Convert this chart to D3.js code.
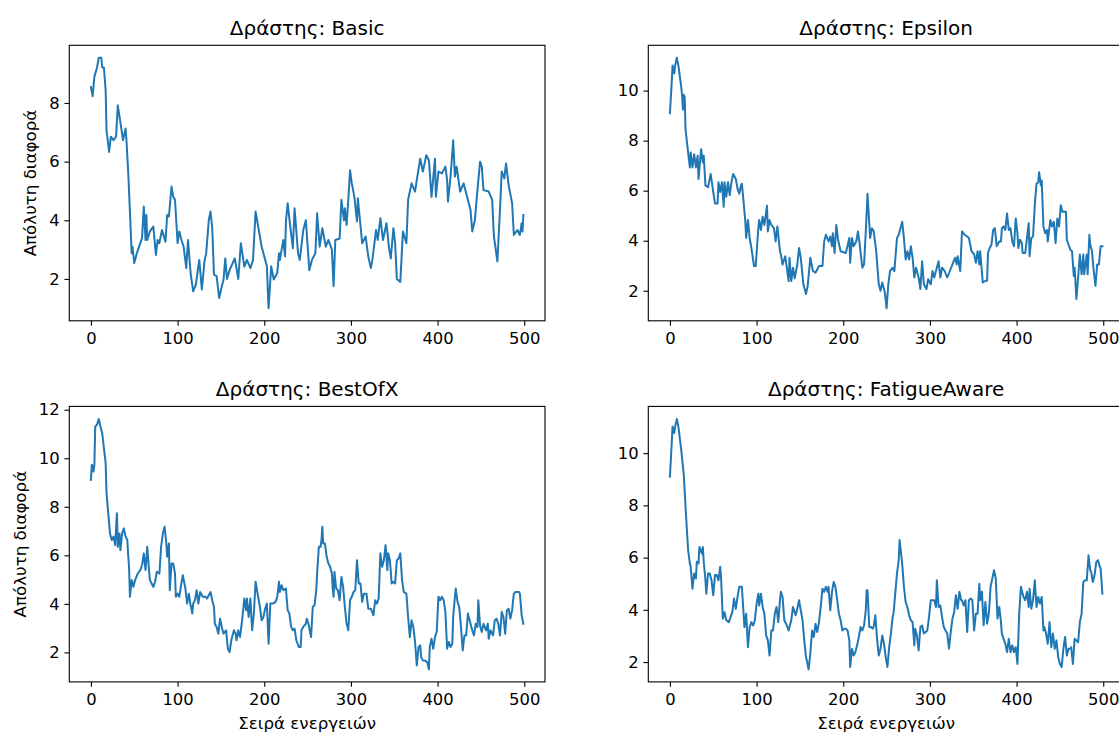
<!DOCTYPE html>
<html><head><meta charset="utf-8">
<script src="https://cdn.jsdelivr.net/npm/d3@7"></script>
<style>body{margin:0;background:#fff;} svg text{font-family:"DejaVu Sans",sans-serif;fill:#000;}</style>
</head><body><svg id="c" width="1119" height="734"></svg>
<script>
// ---------- data ----------
const agentNames = ["Basic", "Epsilon", "BestOfX", "FatigueAware"];
const titlePrefix = "Δράστης: ";
const yAxisLabel = "Απόλυτη διαφορά";
const xAxisLabel = "Σειρά ενεργειών";
const xTicks = [0, 100, 200, 300, 400, 500];
const yTicksBasic = [2, 4, 6, 8];
const yTicksEpsilon = [2, 4, 6, 8, 10];
const yTicksBestOfX = [2, 4, 6, 8, 10, 12];
const yTicksFatigue = [2, 4, 6, 8, 10];

// [action index, absolute difference]
const basicPts = [[0,8.54],[2,8.23],[4,8.9],[7,9.2],[9,9.54],[12,9.54],[13,9.22],[15,9.2],[17,8.43],[18,7.07],[21,6.33],[23,6.85],[26,6.73],[29,6.85],[31,7.92],[34,7.35],[37,6.73],[40,7.13],[41,6.73],[43,5.66],[45,4.3],[47,2.88],[48,3.1],[50,2.54],[53,2.88],[57,3.22],[59,3.4],[61,4.47],[63,3.33],[64,4.18],[65,3.33],[68,3.62],[72,3.79],[75,2.82],[77,3.33],[79,3.22],[82,3.67],[86,3.27],[88,4.18],[90,4.13],[93,5.15],[95,4.8],[97,4.7],[100,3.22],[102,3.62],[105,3.27],[107,3.1],[110,2.37],[112,3.33],[115,2.2],[118,1.58],[121,1.8],[125,2.65],[128,1.64],[131,2.6],[133,2.88],[136,4.0],[138,4.3],[140,3.73],[142,2.15],[145,2.1],[148,1.35],[151,1.75],[153,1.97],[155,2.7],[157,2.0],[160,2.3],[166,2.7],[170,2.0],[173,3.22],[177,2.42],[180,2.65],[184,2.37],[187,2.65],[190,4.3],[193,3.79],[197,3.1],[200,2.77],[203,2.43],[205,1.0],[208,2.43],[211,1.98],[215,2.2],[217,2.88],[218,2.65],[222,3.33],[224,2.77],[225,3.96],[227,4.58],[230,3.79],[233,3.05],[235,4.41],[239,2.88],[241,2.65],[245,3.67],[248,4.0],[252,2.3],[255,2.65],[259,2.88],[261,4.24],[264,3.1],[267,3.73],[271,3.1],[274,3.33],[278,3.0],[280,1.75],[282,3.33],[287,3.38],[289,4.7],[292,4.0],[293,4.41],[295,3.84],[297,4.7],[299,5.71],[301,5.26],[304,4.8],[307,3.96],[308,4.75],[311,3.84],[313,3.22],[317,3.45],[320,2.77],[323,2.37],[325,2.7],[329,3.67],[331,3.33],[334,4.07],[337,3.33],[341,3.9],[344,3.05],[346,2.7],[349,3.73],[351,3.22],[353,2.0],[357,1.9],[360,3.62],[364,3.22],[366,4.7],[370,5.26],[374,4.98],[376,5.37],[380,6.1],[383,5.66],[387,6.22],[390,6.05],[393,4.8],[397,6.1],[398,4.8],[401,5.66],[405,5.6],[409,5.83],[411,5.37],[412,4.64],[415,5.5],[418,6.73],[420,5.49],[422,5.83],[426,4.98],[430,5.26],[433,4.92],[438,4.35],[440,3.62],[443,4.0],[446,5.03],[449,6.0],[451,5.83],[453,5.03],[459,4.98],[463,4.7],[465,3.45],[469,2.6],[472,4.35],[474,5.66],[477,5.43],[479,5.94],[482,5.2],[486,4.58],[488,3.5],[492,3.67],[495,3.5],[497,3.9],[498,3.62],[499,4.18]];

const epsilonPts = [[0,9.1],[2,10.29],[3,11.0],[5,10.68],[6,11.0],[8,11.31],[10,10.95],[13,10.16],[14,9.83],[15,9.24],[16,9.83],[17,9.76],[18,8.45],[21,7.53],[23,6.93],[24,7.53],[26,6.93],[28,7.46],[30,6.93],[32,7.4],[33,6.47],[36,7.66],[38,7.13],[39,7.4],[41,6.21],[44,6.14],[47,6.67],[50,5.95],[52,5.49],[55,5.49],[56,6.34],[58,5.95],[60,6.34],[62,5.36],[63,6.34],[65,5.75],[67,6.34],[69,5.82],[71,6.34],[73,6.67],[76,6.47],[78,6.08],[80,5.88],[82,6.21],[83,6.28],[85,5.55],[87,4.76],[88,4.11],[90,4.83],[92,4.11],[94,3.71],[97,2.99],[99,2.99],[102,4.5],[103,4.83],[105,4.43],[107,4.96],[109,4.63],[112,5.4],[113,4.37],[115,4.83],[117,4.63],[120,4.5],[122,3.97],[124,4.57],[127,3.58],[128,3.45],[130,3.05],[133,3.38],[137,2.39],[138,3.32],[140,2.39],[142,2.92],[144,2.5],[147,3.05],[149,3.71],[151,3.32],[154,2.26],[157,1.87],[159,2.2],[162,3.32],[165,2.79],[168,2.72],[172,2.99],[176,2.99],[178,3.97],[180,4.24],[183,3.97],[185,4.17],[187,3.78],[188,4.3],[190,3.51],[192,4.63],[194,4.04],[197,3.58],[203,3.51],[207,4.11],[208,3.12],[210,4.11],[212,3.78],[215,3.97],[217,4.37],[219,3.84],[222,2.92],[224,3.05],[226,4.37],[228,5.88],[231,4.11],[233,4.5],[235,4.4],[238,3.58],[241,2.26],[243,2.0],[245,2.33],[248,1.93],[250,1.3],[252,2.26],[254,2.79],[257,2.92],[259,2.79],[262,4.11],[264,4.24],[266,4.5],[268,4.76],[270,4.11],[272,3.25],[274,3.58],[276,3.25],[278,3.78],[280,3.32],[282,2.53],[284,2.92],[287,2.53],[289,2.07],[291,3.18],[293,2.26],[296,2.07],[298,2.46],[301,2.26],[303,2.79],[305,2.53],[307,2.79],[310,3.18],[312,2.53],[314,2.92],[317,2.79],[320,2.53],[323,2.79],[326,3.05],[329,3.32],[331,3.05],[332,3.38],[335,2.79],[337,4.37],[340,4.24],[343,4.17],[345,4.11],[348,3.58],[351,3.45],[353,3.12],[355,3.58],[357,3.05],[358,3.58],[361,2.33],[364,2.4],[366,2.4],[367,3.51],[369,3.71],[371,3.84],[373,4.43],[375,4.5],[377,3.78],[380,3.97],[382,3.97],[383,4.5],[385,4.57],[387,4.43],[389,5.09],[391,4.43],[393,4.5],[395,3.97],[397,3.78],[399,4.89],[401,4.3],[402,3.71],[404,4.04],[406,3.91],[407,3.51],[410,3.51],[412,4.11],[414,4.7],[415,3.38],[417,4.11],[419,4.17],[421,5.42],[423,6.28],[425,6.34],[426,6.74],[428,6.21],[429,6.41],[431,4.57],[433,4.3],[435,4.43],[436,3.97],[439,4.83],[441,4.57],[443,4.76],[445,3.91],[447,4.89],[449,4.57],[451,5.42],[453,5.16],[457,5.16],[458,4.04],[462,3.64],[464,3.58],[466,2.59],[467,2.92],[469,1.67],[471,2.53],[473,3.45],[475,2.66],[477,3.45],[478,2.66],[481,3.45],[482,2.66],[484,4.24],[485,3.84],[487,3.58],[489,2.79],[491,2.2],[493,3.05],[495,3.05],[497,3.78],[499,3.78]];

const bestOfXPts = [[0,9.11],[1,9.73],[2,9.66],[3,9.45],[4,9.73],[5,11.31],[7,11.38],[9,11.62],[11,11.31],[13,11.04],[15,10.42],[17,9.8],[18,8.56],[20,7.73],[22,6.9],[24,6.63],[26,6.77],[28,6.42],[30,7.73],[31,6.35],[33,6.9],[34,6.21],[36,6.9],[38,7.11],[40,6.77],[42,6.63],[43,6.0],[44,5.53],[45,4.29],[47,4.98],[49,4.7],[51,4.98],[54,5.25],[57,5.39],[59,5.6],[61,6.08],[63,5.39],[65,6.35],[67,5.39],[68,4.98],[72,4.7],[74,4.91],[76,5.32],[79,5.25],[81,6.35],[83,6.9],[85,7.18],[87,6.49],[88,5.94],[90,6.49],[91,4.56],[93,5.66],[95,5.66],[97,5.25],[98,4.29],[100,4.42],[102,4.29],[104,4.77],[106,5.18],[109,4.63],[111,4.01],[113,4.42],[115,3.94],[117,3.6],[118,4.01],[120,4.15],[122,4.56],[124,4.01],[126,4.49],[129,4.29],[132,4.29],[134,4.22],[138,4.49],[140,4.15],[142,3.87],[143,3.18],[145,3.05],[147,2.77],[149,3.39],[151,3.05],[153,2.77],[156,2.91],[158,2.15],[160,2.01],[162,2.5],[165,2.91],[167,2.77],[168,2.5],[170,2.91],[172,2.63],[174,3.18],[176,3.87],[177,4.22],[179,3.74],[180,4.22],[182,3.46],[184,4.22],[186,2.91],[188,3.6],[190,4.91],[192,4.49],[195,3.87],[197,3.32],[199,3.46],[201,3.8],[203,4.01],[205,2.36],[207,4.01],[210,4.01],[213,4.08],[215,4.29],[217,4.91],[218,4.49],[220,4.77],[222,4.56],[225,4.63],[227,3.74],[229,3.6],[231,3.05],[233,2.91],[235,2.98],[237,2.5],[240,2.22],[242,2.22],[243,2.91],[245,3.05],[248,3.18],[249,3.39],[251,3.18],[254,2.63],[256,3.87],[258,3.94],[260,4.56],[261,5.25],[263,6.35],[265,6.35],[266,6.63],[267,7.18],[268,6.49],[270,6.49],[272,5.94],[274,5.66],[276,5.53],[278,5.25],[279,4.63],[280,4.29],[281,5.32],[283,4.63],[285,4.56],[287,4.15],[289,5.11],[291,4.7],[293,3.87],[295,3.18],[297,2.91],[299,4.15],[301,4.29],[303,4.49],[305,4.56],[307,5.8],[309,4.84],[311,4.84],[313,4.08],[315,4.42],[318,4.42],[320,3.8],[323,3.8],[326,3.53],[328,4.15],[330,4.01],[332,4.22],[334,6.08],[336,5.53],[338,5.8],[340,6.42],[342,5.39],[343,6.08],[345,5.8],[347,4.84],[349,4.91],[351,4.84],[353,5.8],[355,5.87],[357,6.08],[359,4.98],[361,4.49],[364,4.42],[366,3.46],[368,2.63],[370,3.32],[372,3.05],[374,2.43],[376,1.46],[378,2.22],[380,2.29],[381,1.81],[383,1.67],[385,1.67],[388,1.6],[390,1.3],[391,2.22],[393,2.56],[395,2.15],[397,2.63],[399,2.84],[401,4.29],[403,4.15],[405,4.29],[407,4.15],[409,3.67],[411,2.15],[413,2.43],[415,2.22],[417,2.36],[418,3.46],[420,4.29],[421,4.63],[423,4.08],[425,3.87],[427,3.05],[429,2.08],[431,2.7],[433,2.7],[435,3.6],[438,3.18],[440,2.91],[442,2.7],[444,3.18],[446,3.05],[447,4.15],[449,3.11],[451,2.84],[453,3.18],[456,2.91],[458,3.18],[459,2.56],[461,2.91],[464,2.7],[466,3.32],[468,3.39],[470,3.18],[472,2.7],[474,3.67],[476,3.46],[478,2.77],[480,3.74],[482,3.8],[484,3.39],[486,3.74],[488,4.42],[490,4.49],[492,4.49],[494,4.49],[495,4.42],[497,3.53],[499,3.18]];

const fatiguePts = [[0,9.1],[2,10.32],[3,11.02],[5,10.77],[6,11.02],[8,11.31],[10,10.96],[13,10.13],[16,9.17],[18,7.95],[19,7.38],[21,6.29],[23,5.77],[24,5.65],[26,4.81],[28,5.39],[30,5.2],[31,5.84],[33,5.77],[34,6.41],[37,6.15],[38,6.41],[39,5.84],[41,5.13],[42,4.62],[44,5.39],[46,5.39],[48,5.13],[50,4.56],[52,5.33],[54,5.33],[56,5.13],[58,5.65],[59,5.26],[61,3.66],[63,3.91],[65,3.6],[68,3.53],[70,3.72],[72,3.91],[74,4.43],[76,4.04],[78,4.49],[80,4.88],[83,4.88],[84,4.37],[86,3.34],[88,3.85],[90,2.57],[92,3.34],[94,3.53],[96,3.4],[98,3.6],[100,4.24],[102,4.62],[103,4.17],[105,4.62],[107,4.11],[109,3.85],[111,3.02],[113,2.83],[115,2.25],[117,3.21],[119,3.21],[121,3.85],[123,4.11],[125,3.53],[127,4.37],[128,4.69],[130,4.49],[132,3.6],[134,3.47],[137,3.21],[138,3.34],[140,3.6],[142,4.11],[145,3.79],[147,4.04],[149,4.37],[151,3.98],[153,3.6],[155,2.83],[157,2.19],[158,2.06],[160,1.72],[162,2.32],[164,3.21],[166,2.96],[168,3.47],[170,3.15],[172,3.53],[174,4.11],[176,4.81],[178,4.69],[180,4.88],[182,4.69],[183,4.88],[185,3.98],[187,4.69],[189,5.07],[191,4.88],[193,4.37],[195,3.85],[197,3.6],[199,3.21],[201,3.28],[203,3.28],[205,3.21],[207,2.83],[208,1.81],[210,2.51],[212,2.25],[214,2.38],[216,2.64],[218,2.96],[220,3.34],[222,3.21],[224,3.4],[226,3.98],[227,4.75],[228,4.75],[230,3.34],[232,3.34],[234,3.28],[235,3.34],[237,3.79],[239,2.89],[241,2.25],[243,2.51],[245,3.02],[247,2.7],[249,2.19],[251,1.81],[253,2.57],[255,3.09],[257,3.73],[258,3.85],[260,4.62],[262,5.39],[264,5.9],[265,6.67],[267,6.09],[268,5.77],[270,4.88],[272,4.3],[274,4.11],[276,3.79],[278,3.6],[280,3.53],[282,2.64],[283,3.28],[285,3.02],[287,2.45],[289,3.34],[291,3.4],[293,3.09],[295,3.15],[297,3.21],[299,3.73],[301,4.37],[303,4.37],[305,4.37],[307,4.11],[308,5.13],[310,4.11],[312,4.17],[314,3.73],[316,3.34],[318,3.21],[320,3.09],[322,2.51],[324,3.15],[326,3.66],[328,3.92],[330,4.56],[332,4.04],[334,4.69],[336,4.37],[337,4.37],[339,4.17],[341,4.37],[343,3.15],[345,4.37],[347,4.43],[349,4.37],[351,3.21],[353,3.85],[355,3.85],[357,5.0],[358,4.37],[360,4.69],[362,3.41],[364,4.3],[366,3.47],[368,3.85],[370,4.88],[372,5.2],[374,5.52],[376,5.2],[378,3.66],[380,4.11],[382,3.53],[383,3.09],[385,2.89],[387,2.7],[389,2.38],[391,2.89],[393,2.38],[395,2.64],[397,2.38],[399,2.57],[401,1.93],[403,3.85],[405,4.88],[407,4.62],[408,4.49],[410,4.37],[412,4.69],[414,4.11],[415,4.81],[417,4.04],[419,4.37],[421,5.13],[423,4.11],[425,4.49],[427,4.24],[429,4.49],[431,3.21],[432,3.34],[434,3.09],[436,2.7],[438,3.53],[440,2.57],[442,3.09],[444,2.51],[446,2.83],[448,2.19],[450,1.93],[452,1.81],[454,2.51],[456,2.96],[458,2.25],[460,2.51],[462,2.51],[463,2.57],[465,1.93],[467,2.89],[469,2.83],[471,2.76],[473,3.53],[475,3.85],[477,5.07],[479,5.13],[481,5.13],[483,6.09],[485,5.52],[486,5.46],[488,5.07],[490,5.33],[492,5.84],[494,5.9],[496,5.65],[497,5.58],[499,4.62]];

// ---------- layout ----------
const W = 475.7, H = 275.5;
const panels = [
  {name: agentNames[0], pts: basicPts,   yTicks: yTicksBasic,   left: 69.3,  top: 45.3,  yLab: 36, xLab: false},
  {name: agentNames[1], pts: epsilonPts, yTicks: yTicksEpsilon, left: 648.3, top: 45.3,  yLab: null, xLab: false},
  {name: agentNames[2], pts: bestOfXPts, yTicks: yTicksBestOfX, left: 69.3,  top: 406.4, yLab: 26, xLab: true},
  {name: agentNames[3], pts: fatiguePts, yTicks: yTicksFatigue, left: 648.3, top: 406.4, yLab: null, xLab: true}
];

const svg = d3.select("#c");
svg.append("rect").attr("width", 1119).attr("height", 734).attr("fill", "#fff");
const blue = "#1f77b4";
const tickLen = 4.86, tickPad = 4.86, tickFs = 16.4, labelFs = 16.67, titleFs = 20;

panels.forEach((p, k) => {
  const g = svg.append("g").attr("transform", `translate(${p.left},${p.top})`);
  const xs = p.pts.map(d => d[0]), ys = p.pts.map(d => d[1]);
  const [x0, x1] = d3.extent(xs), [y0, y1] = d3.extent(ys);
  const mx = (x1 - x0) * 0.05, my = (y1 - y0) * 0.05;
  const x = d3.scaleLinear().domain([x0 - mx, x1 + mx]).range([0, W]);
  const y = d3.scaleLinear().domain([y0 - my, y1 + my]).range([H, 0]);

  const clipId = "clip" + k;
  g.append("clipPath").attr("id", clipId).append("rect").attr("width", W).attr("height", H);

  g.append("path").datum(p.pts)
    .attr("clip-path", `url(#${clipId})`)
    .attr("fill", "none").attr("stroke", blue).attr("stroke-width", 2)
    .attr("stroke-linejoin", "round").attr("stroke-linecap", "square")
    .attr("d", d3.line().x(d => x(d[0])).y(d => y(d[1])));

  g.append("rect").attr("width", W).attr("height", H)
    .attr("fill", "none").attr("stroke", "#000").attr("stroke-width", 1.1);

  const ax = g.append("g").attr("transform", `translate(0,${H})`)
    .call(d3.axisBottom(x).tickValues(xTicks).tickSize(tickLen).tickPadding(tickPad + 1.5).tickFormat(d3.format("d")));
  const ay = g.append("g")
    .call(d3.axisLeft(y).tickValues(p.yTicks).tickSize(tickLen).tickPadding(tickPad).tickFormat(d3.format("d")));
  [ax, ay].forEach(a => {
    a.select(".domain").remove();
    a.selectAll("line").attr("stroke", "#000").attr("stroke-width", 1.1);
    a.selectAll("text").attr("font-size", tickFs).attr("font-family", "DejaVu Sans").attr("fill", "#000");
  });

  g.append("text").attr("x", W / 2).attr("y", -10)
    .attr("text-anchor", "middle").attr("font-size", titleFs)
    .text(titlePrefix + p.name);

  if (p.yLab !== null) {
    svg.append("text")
      .attr("transform", `translate(${p.yLab},${p.top + H / 2}) rotate(-90)`)
      .attr("text-anchor", "middle").attr("font-size", labelFs)
      .text(yAxisLabel);
  }
  if (p.xLab) {
    svg.append("text").attr("x", p.left + W / 2).attr("y", 729)
      .attr("text-anchor", "middle").attr("font-size", labelFs)
      .text(xAxisLabel);
  }
});
</script></body></html>
